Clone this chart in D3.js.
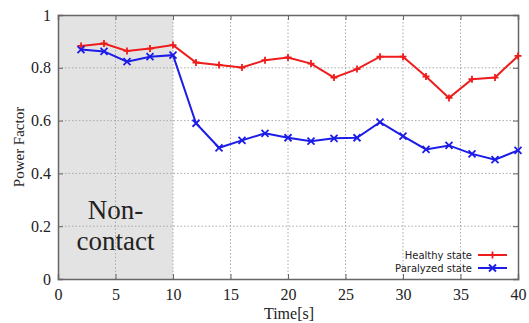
<!DOCTYPE html>
<html>
<head>
<meta charset="utf-8">
<script src="https://cdn.jsdelivr.net/npm/d3@7"></script>
<style>
  body { margin: 0; background: #fff; }
  .grid line { stroke: #aaa; stroke-dasharray: 1.5,2; }
</style>
</head>
<body>
<svg id="chart" width="529" height="323"></svg>
<script>
const timeSec = [2, 4, 6, 8, 10, 12, 14, 16, 18, 20, 22, 24, 26, 28, 30, 32, 34, 36, 38, 40];
const healthy = [0.883, 0.892, 0.864, 0.873, 0.886, 0.820, 0.811, 0.801, 0.829, 0.839, 0.816, 0.763, 0.795, 0.842, 0.842, 0.767, 0.686, 0.757, 0.763, 0.845];
const paralyzed = [0.869, 0.862, 0.823, 0.842, 0.848, 0.590, 0.497, 0.525, 0.552, 0.535, 0.522, 0.533, 0.535, 0.594, 0.541, 0.491, 0.506, 0.474, 0.452, 0.487];
const xTicks = [0, 5, 10, 15, 20, 25, 30, 35, 40];
const yTicks = [0, 0.2, 0.4, 0.6, 0.8, 1];
const nonContact = [0, 10];

const plotL = 58, plotR = 518, plotT = 15, plotB = 279;
const svg = d3.select('#chart');
const x = d3.scaleLinear().domain([0, 40]).range([plotL, plotR]);
const y = d3.scaleLinear().domain([0, 1]).range([plotB, plotT]);

// grey non-contact zone
svg.append('rect').attr('x', x(nonContact[0])).attr('y', plotT)
  .attr('width', x(nonContact[1]) - x(nonContact[0])).attr('height', plotB - plotT)
  .attr('fill', '#e3e3e3');

// dotted grid
const grid = svg.append('g').attr('class', 'grid');
grid.selectAll('.gx').data(xTicks.slice(1, -1)).enter().append('line')
  .attr('x1', d => x(d)).attr('x2', d => x(d)).attr('y1', plotT).attr('y2', plotB);
grid.selectAll('.gy').data(yTicks.slice(1, -1)).enter().append('line')
  .attr('y1', d => y(d)).attr('y2', d => y(d)).attr('x1', plotL).attr('x2', plotR);

// axes with inward ticks, mirrored
const xAxis = d3.axisBottom(x).tickValues(xTicks).tickSize(-5).tickPadding(10).tickFormat(d3.format('d'));
const yAxis = d3.axisLeft(y).tickValues(yTicks).tickSize(-5).tickPadding(7).tickFormat(d => d === 0 || d === 1 ? d : d.toFixed(1));
svg.append('g').attr('transform', 'translate(0,' + plotB + ')').call(xAxis);
svg.append('g').attr('transform', 'translate(' + plotL + ',0)').call(yAxis);
svg.append('g').attr('transform', 'translate(0,' + plotT + ')')
  .call(d3.axisTop(x).tickValues(xTicks).tickSize(-5).tickFormat(''));
svg.append('g').attr('transform', 'translate(' + plotR + ',0)')
  .call(d3.axisRight(y).tickValues(yTicks).tickSize(-5).tickFormat(''));
svg.selectAll('.domain').attr('stroke', '#666').attr('stroke-width', 1.5);
svg.selectAll('.tick line').attr('stroke', '#666');
svg.selectAll('.tick text').attr('font-family', 'Liberation Serif, serif').attr('font-size', 16).attr('fill', '#222');

// Non-contact label
svg.append('text').attr('x', x(5)).attr('y', 219).attr('text-anchor', 'middle')
  .style('font-family', 'Liberation Serif, serif').style('font-size', '27px').attr('fill', '#222').text('Non-');
svg.append('text').attr('x', x(5)).attr('y', 250).attr('text-anchor', 'middle')
  .style('font-family', 'Liberation Serif, serif').style('font-size', '27px').attr('fill', '#222').text('contact');

// axis titles
svg.append('text').attr('transform', 'translate(24,' + ((plotT + plotB) / 2) + ') rotate(-90)')
  .attr('text-anchor', 'middle').style('font-family', 'Liberation Serif, serif').style('font-size', '15px')
  .attr('fill', '#222').text('Power Factor');
svg.append('text').attr('x', 289).attr('y', 319).attr('text-anchor', 'middle')
  .style('font-family', 'Liberation Serif, serif').style('font-size', '16px').attr('fill', '#222').text('Time[s]');

// series
const line = d3.line().x(d => x(d[0])).y(d => y(d[1]));
const series = [
  {name: 'Healthy state', vals: healthy, color: '#ee1c1c', mark: 'plus'},
  {name: 'Paralyzed state', vals: paralyzed, color: '#1c1ce8', mark: 'cross'}
];
function marker(g, cx, cy, kind, color) {
  const s = 3.5;
  const p = kind === 'plus'
    ? `M${cx - s},${cy}L${cx + s},${cy}M${cx},${cy - s}L${cx},${cy + s}`
    : `M${cx - s},${cy - s}L${cx + s},${cy + s}M${cx - s},${cy + s}L${cx + s},${cy - s}`;
  g.append('path').attr('d', p).attr('stroke', color).attr('stroke-width', 1.8).attr('fill', 'none');
}
series.forEach(s => {
  const pts = timeSec.map((t, i) => [t, s.vals[i]]);
  svg.append('path').attr('d', line(pts)).attr('fill', 'none').attr('stroke', s.color).attr('stroke-width', 2);
  const g = svg.append('g');
  pts.forEach(p => marker(g, x(p[0]), y(p[1]), s.mark, s.color));
});

// legend
series.forEach((s, i) => {
  const ly = 255 + i * 13;
  svg.append('text').attr('x', 472).attr('y', ly + 4).attr('text-anchor', 'end')
    .style('font-family', 'DejaVu Sans, sans-serif').style('font-size', '10px').attr('fill', '#222').text(s.name);
  svg.append('line').attr('x1', 478).attr('x2', 507).attr('y1', ly).attr('y2', ly)
    .attr('stroke', s.color).attr('stroke-width', 2);
  marker(svg, 492.5, ly, s.mark, s.color);
});
</script>
</body>
</html>
